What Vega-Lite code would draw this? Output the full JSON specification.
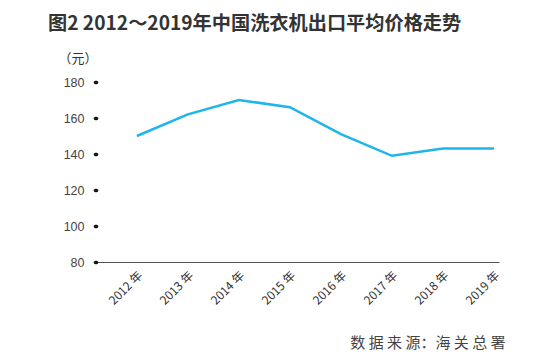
{
  "$schema": "https://vega.github.io/schema/vega-lite/v6.json",
  "autosize": "none",
  "width": 403,
  "height": 180,
  "padding": {"left": 96, "top": 82, "right": 51, "bottom": 97},
  "background": "white",
  "title": {
    "text": "图2 2012～2019年中国洗衣机出口平均价格走势",
    "anchor": "start",
    "dx": -10,
    "offset": 18,
    "font": "Noto Sans CJK SC",
    "fontSize": 19.2,
    "fontWeight": "bold",
    "color": "#333333"
  },
  "config": {"view": {"stroke": null}},
  "data": {
    "values": [
      {"year": "2012", "price": 150},
      {"year": "2013", "price": 162},
      {"year": "2014", "price": 170},
      {"year": "2015", "price": 166},
      {"year": "2016", "price": 151},
      {"year": "2017", "price": 139},
      {"year": "2018", "price": 143},
      {"year": "2019", "price": 143}
    ]
  },
  "mark": {"type": "line", "color": "#1cb5ec", "strokeWidth": 2.5},
  "encoding": {
    "x": {
      "field": "year",
      "type": "ordinal",
      "scale": {"type": "point", "padding": 0.45, "align": 0.89},
      "axis": {
        "title": "数 据 来 源：海 关 总 署",
        "titleX": 409,
        "titleY": 85,
        "titleAlign": "right",
        "titleBaseline": "alphabetic",
        "titleFont": "Noto Sans CJK SC",
        "titleFontSize": 15,
        "titleFontWeight": "normal",
        "titleColor": "#444444",
        "labelExpr": "datum.value + ' 年'",
        "labelAngle": -45,
        "labelAlign": "right",
        "labelBaseline": "middle",
        "labelFont": "Noto Sans CJK SC",
        "labelFontSize": 12,
        "labelColor": "#333333",
        "labelPadding": 11,
        "labelOffset": 3,
        "ticks": false,
        "domainColor": "#555555",
        "domainWidth": 1,
        "grid": false
      }
    },
    "y": {
      "field": "price",
      "type": "quantitative",
      "scale": {"domain": [80, 180], "zero": false, "nice": false},
      "axis": {
        "values": [80, 100, 120, 140, 160, 180],
        "title": "（元）",
        "titleAngle": 0,
        "titleX": -38,
        "titleY": -24,
        "titleAlign": "left",
        "titleBaseline": "middle",
        "titleFont": "Noto Sans CJK SC",
        "titleFontSize": 13,
        "titleFontWeight": "normal",
        "titleColor": "#333333",
        "domain": false,
        "grid": false,
        "tickSize": 1,
        "tickWidth": 3.5,
        "tickCap": "round",
        "tickColor": "#111111",
        "labelPadding": 11,
        "labelFont": "Liberation Sans",
        "labelFontSize": 12.5,
        "labelColor": "#444444"
      }
    }
  }
}
